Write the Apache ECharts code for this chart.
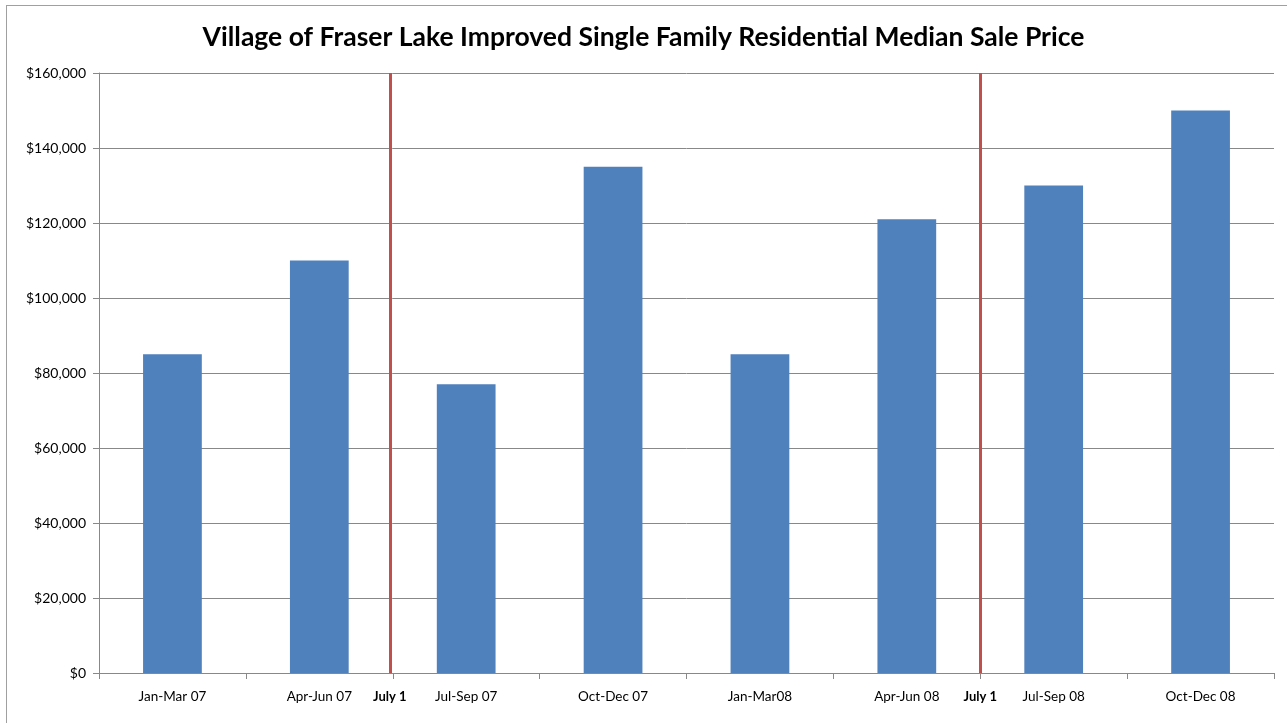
<!DOCTYPE html>
<html>
<head>
<meta charset="utf-8">
<script src="https://cdn.jsdelivr.net/npm/echarts@6/dist/echarts.min.js"></script>
<style>
html,body{margin:0;padding:0;background:#fff;}
#frame{position:absolute;left:6px;top:5px;width:1300px;height:740px;border-left:1px solid #a0a0a0;border-top:1px solid #a0a0a0;}
#chart{position:absolute;left:0;top:0;width:1287px;height:723px;}
</style>
</head>
<body>
<div id="frame"></div>
<div id="chart"></div>
<script>
const titleText = 'Village of Fraser Lake Improved Single Family Residential Median Sale Price';
const categories = ['Jan-Mar 07','Apr-Jun 07','Jul-Sep 07','Oct-Dec 07','Jan-Mar08','Apr-Jun 08','Jul-Sep 08','Oct-Dec 08'];
const medianPrice = [85000, 110000, 77000, 135000, 85000, 121000, 130000, 150000];
const markerPositions = [1.98, 6.0];
const markerLabels = ['July 1', 'July 1'];

const chart = echarts.init(document.getElementById('chart'));
const font = 'Lato, "Open Sans", sans-serif';
chart.setOption({
  animation: false,
  backgroundColor: 'transparent',
  title: {
    text: titleText,
    left: 'center',
    top: 19,
    textStyle: {fontFamily: font, fontWeight: 'bold', fontSize: 26.5, color: '#000'}
  },
  grid: {left: 99, right: 13, top: 73, bottom: 50},
  xAxis: [{
    type: 'category',
    data: categories,
    axisLine: {lineStyle: {color: '#888', width: 1}},
    axisTick: {show: true, length: 6, lineStyle: {color: '#888'}},
    axisLabel: {fontFamily: font, fontSize: 13.5, color: '#000', margin: 17}
  }, {
    type: 'value', min: 0, max: 8, show: false
  }],
  yAxis: {
    type: 'value', min: 0, max: 160000, interval: 20000,
    axisLine: {show: true, lineStyle: {color: '#888'}},
    axisTick: {show: true, length: 6, lineStyle: {color: '#888'}},
    splitLine: {lineStyle: {color: '#888', width: 1}},
    axisLabel: {
      fontFamily: font, fontSize: 14, color: '#000', margin: 13,
      formatter: v => '$' + v.toLocaleString('en-US')
    }
  },
  series: [{
    type: 'bar',
    data: medianPrice,
    barWidth: '40%',
    itemStyle: {color: '#4F81BD'}
  }, {
    type: 'scatter',
    xAxisIndex: 1,
    data: [],
    markLine: {
      silent: true,
      symbol: ['none','none'],
      lineStyle: {color: '#C0504D', width: 3, type: 'solid'},
      label: {
        show: true, position: 'start', distance: 17,
        fontFamily: font, fontWeight: 'bold', fontSize: 13, color: '#000',
        formatter: p => p.name
      },
      data: markerPositions.map((x, i) => ({xAxis: x, name: markerLabels[i]}))
    }
  }]
});
</script>
</body>
</html>
